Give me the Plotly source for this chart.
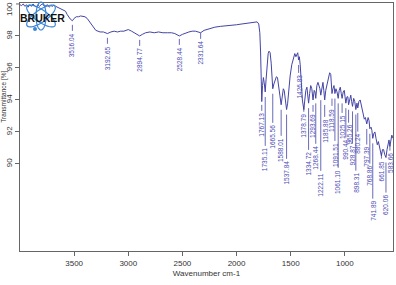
import numpy as np
import plotly.graph_objects as go

# ---- spectrum (wavenumber cm-1, transmittance %) ----
wavenumber = [
    4000, 3985, 3970, 3955, 3940, 3925, 3910, 3895, 3880, 3865, 3850, 3835, 3820, 3805,
    3790, 3775, 3760, 3745, 3730, 3715, 3700, 3685, 3670, 3655, 3640, 3625, 3610, 3595,
    3580, 3565, 3550, 3535, 3516.04, 3500, 3480, 3460, 3440, 3420, 3400, 3380, 3360, 3340,
    3320, 3300, 3280, 3260, 3230, 3192.65, 3160, 3130, 3100, 3070, 3040, 3000, 2970, 2940,
    2920, 2894.77, 2870, 2840, 2800, 2760, 2720, 2680, 2640, 2600, 2570, 2550, 2528.44, 2500,
    2470, 2440, 2410, 2380, 2355, 2331.64, 2300, 2250, 2200, 2150, 2100, 2050, 2000, 1950,
    1900, 1850, 1810,
    1795, 1785, 1778, 1772, 1767.13, 1760, 1752, 1745, 1735.11, 1727, 1718, 1708, 1700, 1690,
    1680, 1672, 1665.56, 1655, 1645, 1632, 1622, 1612, 1600, 1588.01, 1578, 1568, 1560, 1550,
    1537.84, 1528, 1518, 1505, 1490, 1475, 1462, 1452, 1444, 1435, 1426.83, 1420, 1412, 1402,
    1392, 1378.79, 1370, 1360, 1350, 1342, 1334.72, 1325, 1315, 1305, 1293.69, 1283, 1275,
    1268.44, 1258, 1248, 1238, 1230, 1222.11, 1212, 1202, 1194, 1185.88, 1176, 1165, 1152,
    1140, 1130, 1124, 1118.59, 1110, 1100, 1091.51, 1082, 1072, 1061.10, 1052, 1042, 1033,
    1025.15, 1015, 1005, 998, 990.44, 980, 972, 965.26, 955, 945, 937, 928.87, 918, 908,
    898.31, 888, 880.24, 870, 858, 845, 832, 820, 810, 797.39, 785, 776, 768.86, 758, 750,
    741.89, 732, 722, 712, 700, 690, 680, 670, 661.85, 652, 642, 632, 620.06, 610, 600, 592,
    583.66, 575, 566, 555,
]
transmittance = [
    99.95, 99.90, 100.0, 99.85, 99.95, 99.80, 99.95, 99.85, 100.0, 99.90, 99.80, 99.95, 99.85, 99.95,
    100.0, 99.85, 99.90, 99.95, 99.80, 99.90, 99.85, 99.95, 99.85, 99.80, 99.75, 99.70, 99.65, 99.60,
    99.55, 99.35, 99.15, 99.05, 98.95, 99.10, 99.20, 99.20, 99.25, 99.20, 99.20, 99.10, 98.90, 98.70,
    98.50, 98.35, 98.30, 98.25, 98.25, 98.15, 98.25, 98.30, 98.25, 98.30, 98.30, 98.40, 98.30, 98.20,
    98.10, 98.00, 98.10, 98.20, 98.25, 98.20, 98.25, 98.20, 98.20, 98.20, 98.15, 98.10, 98.00, 98.10,
    98.20, 98.25, 98.30, 98.30, 98.25, 98.20, 98.35, 98.45, 98.55, 98.60, 98.62, 98.68, 98.70, 98.75,
    98.78, 98.82, 98.88,
    98.75, 98.20, 97.00, 95.20, 93.90, 94.90, 95.40, 95.10, 94.50, 95.30, 96.30, 96.90, 97.05, 96.95,
    96.30, 95.30, 94.70, 95.00, 95.20, 95.45, 95.40, 95.00, 94.30, 93.70, 94.20, 94.70, 94.60, 94.00,
    93.40, 93.80, 94.60, 95.50, 96.20, 96.60, 96.90, 96.70, 96.85, 96.95, 96.50, 96.70, 96.20, 95.10,
    94.00, 93.40, 94.00, 94.60, 94.80, 94.30, 93.80, 94.40, 94.90, 94.70, 94.00, 94.60, 94.50,
    94.10, 94.90, 95.10, 94.90, 94.70, 94.30, 94.90, 95.10, 94.60, 94.00, 94.60, 95.00, 95.40,
    95.70, 95.60, 95.00, 94.40, 94.70, 94.90, 94.40, 94.70, 94.50, 94.10, 94.60, 94.80, 94.40,
    94.10, 94.50, 94.60, 94.20, 93.80, 94.20, 94.20, 93.70, 94.10, 94.30, 93.90, 93.60, 94.10, 93.90,
    93.40, 93.80, 93.50, 93.90, 94.00, 93.60, 93.10, 92.80, 92.90, 92.50, 92.90, 92.70, 92.20, 92.30, 92.10,
    91.60, 91.90, 92.00, 91.60, 91.20, 91.40, 91.00, 90.70, 90.50, 90.90, 90.90, 90.60, 90.40, 90.90, 91.40, 91.50,
    91.10, 91.60, 91.80, 91.60,
]

# ---- peak labels: wavenumber, label text, transmittance level of label centre ----
peak_wn = [3516.04, 3192.65, 2894.77, 2528.44, 2331.64, 1767.13, 1735.11, 1665.56, 1588.01,
           1537.84, 1426.83, 1378.79, 1334.72, 1293.69, 1268.44, 1222.11, 1185.88, 1118.59,
           1091.51, 1061.10, 1025.15, 990.44, 965.26, 928.87, 898.31, 880.24, 797.39, 768.86,
           741.89, 661.85, 620.06, 583.66]
peak_text = ["3516.04", "3192.65", "2894.77", "2528.44", "2331.64", "1767.13", "1735.11",
             "1665.56", "1588.01", "1537.84", "1426.83", "1378.79", "1334.72", "1293.69",
             "1268.44", "1222.11", "1185.88", "1118.59", "1091.51", "1061.10", "1025.15",
             "990.44", "965.26", "928.87", "898.31", "880.24", "797.39", "768.86", "741.89",
             "661.85", "620.06", "583.66"]
label_T = [97.44, 96.63, 96.50, 96.56, 96.94, 92.44, 90.25, 91.69, 90.88, 89.44, 94.81, 92.38,
           90.00, 92.38, 90.38, 88.69, 92.06, 92.75, 90.56, 88.88, 92.31, 90.88, 91.81, 90.50,
           88.81, 91.25, 90.44, 89.25, 87.06, 89.56, 87.44, 90.06]

x_ticks = [3500, 3000, 2500, 2000, 1500, 1000]
y_ticks = [90, 92, 94, 96, 98]
y_top_tick = 100

LINE = "#4444a6"
LABEL = "#4b4bb4"
FONT = "Liberation Sans, Arial"
W, H = 396, 285
ML, MR, MT, MB = 20, 3, 3, 34
PW, PH = W - ML - MR, H - MT - MB
Y0, Y1 = 84.56, 100.06
px_per_T = PH / (Y1 - Y0)

fig = go.Figure()
fig.add_trace(go.Scatter(x=wavenumber, y=transmittance, mode="lines",
                         line=dict(color=LINE, width=1), hoverinfo="skip", showlegend=False))

# tick lines from label to spectrum
wn_inc = np.array(wavenumber[::-1], dtype=float)
t_inc = np.array(transmittance[::-1], dtype=float)
tx, ty = [], []
for w, txt, lt in zip(peak_wn, peak_text, label_T):
    half = (len(txt) * 3.45 / 2) / px_per_T
    bottom = lt + half + 2 / px_per_T
    top = float(np.interp(w, wn_inc, t_inc)) - 5 / px_per_T
    if top - bottom < 6 / px_per_T:
        top = bottom + 6 / px_per_T
    tx += [w, w, None]
    ty += [bottom, top, None]
    fig.add_annotation(x=w, y=lt, xref="x", yref="y", text=txt, textangle=-90,
                       showarrow=False, font=dict(size=6.5, color=LABEL, family=FONT),
                       xanchor="center", yanchor="middle")
fig.add_trace(go.Scatter(x=tx, y=ty, mode="lines", line=dict(color=LINE, width=0.8),
                         hoverinfo="skip", showlegend=False))


# Bruker logo (decoration)
def ppx(x):
    return (x - ML) / PW


def ppy(y):
    return (H - MB - y) / PH


cx, cy = 41, 16
for ang, a, b in [(35, 17, 6), (-35, 17, 6), (90, 14, 5)]:
    th = np.linspace(0, 2 * np.pi, 60)
    r = np.deg2rad(ang)
    xs = cx + a * np.cos(th) * np.cos(r) - b * np.sin(th) * np.sin(r)
    ys = cy + a * np.cos(th) * np.sin(r) + b * np.sin(th) * np.cos(r)
    path = "M " + " L ".join(f"{ppx(x):.4f},{ppy(y):.4f}" for x, y in zip(xs, ys)) + " Z"
    fig.add_shape(type="path", path=path, xref="paper", yref="paper",
                  line=dict(color="#3b86d6", width=1.2), layer="above")
fig.add_shape(type="circle", xref="paper", yref="paper", x0=ppx(33), x1=ppx(37),
              y0=ppy(31), y1=ppy(27), fillcolor="#3b86d6", line=dict(width=0))
fig.add_annotation(x=ppx(42.5), y=ppy(17.5), xref="paper", yref="paper", text="<b>BRUKER</b>",
                   showarrow=False, xanchor="center", yanchor="middle",
                   font=dict(size=10.5, color="#111111", family=FONT))

# top tick label (plotly hides it because it would overflow the page top)
fig.add_annotation(x=ppx(9.5), y=ppy(0.5), xref="paper", yref="paper", text=str(y_top_tick),
                   textangle=-90, showarrow=False, xanchor="center", yanchor="top",
                   font=dict(size=8, color="#333333", family=FONT))
fig.add_shape(type="line", xref="paper", yref="y", x0=ppx(16), x1=0,
              y0=y_top_tick, y1=y_top_tick, line=dict(color="#666666", width=1))

# y axis title at the left edge
fig.add_annotation(x=ppx(4.0), y=94.2, xref="paper", yref="y", text="Transmittance [%]",
                   textangle=-90, showarrow=False, xanchor="center", yanchor="middle",
                   font=dict(size=6.5, color="#333333", family=FONT))

fig.update_layout(
    width=W, height=H, margin=dict(l=ML, r=MR, t=MT, b=MB),
    paper_bgcolor="white", plot_bgcolor="white",
    font=dict(family=FONT, size=8, color="#333333"),
    xaxis=dict(range=[4000, 555], tickvals=x_ticks, ticktext=[str(v) for v in x_ticks],
               showgrid=False, zeroline=False, showline=True, linecolor="#666666",
               linewidth=1, mirror=True, ticks="outside", ticklen=4, tickcolor="#666666",
               title=dict(text="Wavenumber cm-1", font=dict(size=8), standoff=3)),
    yaxis=dict(range=[Y0, Y1], tickvals=y_ticks, ticktext=[str(v) for v in y_ticks],
               tickangle=-90, showgrid=False, zeroline=False, showline=True,
               linecolor="#666666", linewidth=1, mirror=True, ticks="outside", ticklen=4,
               tickcolor="#666666"),
)

fig.write_html("out.html")
